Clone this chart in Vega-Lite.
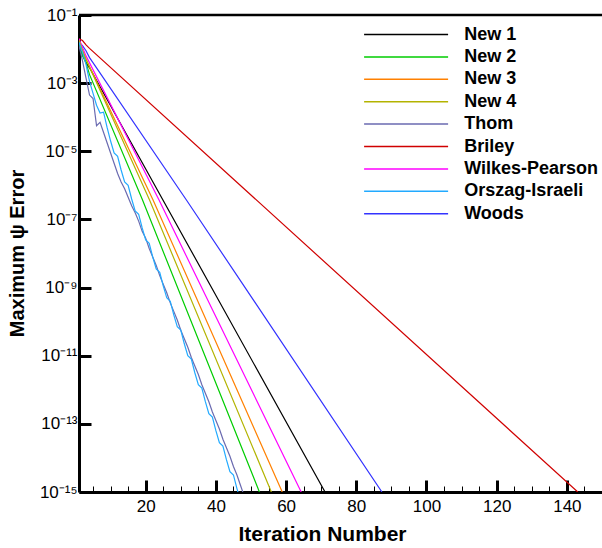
{
  "$schema": "https://vega.github.io/schema/vega-lite/v6.json",
  "width": 523,
  "height": 477,
  "autosize": {"type": "none"},
  "padding": {"left": 79, "top": 15, "right": 0, "bottom": 56},
  "background": "white",
  "config": {
    "view": {"stroke": null},
    "font": "Liberation Sans",
    "axis": {"grid": false, "domainColor": "black", "domainWidth": 3, "tickColor": "black", "labelColor": "black", "titleColor": "black", "labelFont": "Liberation Sans", "titleFont": "Liberation Sans"}
  },
  "datasets": {
    "curves": [
      {"series": "Briley", "iteration": 1, "error": 2.00e-2},
      {"series": "Briley", "iteration": 2, "error": 1.78e-2},
      {"series": "Briley", "iteration": 3, "error": 1.32e-2},
      {"series": "Briley", "iteration": 4, "error": 1.05e-2},
      {"series": "Briley", "iteration": 143.1, "error": 1e-15},

      {"series": "Woods", "iteration": 1, "error": 1.58e-2},
      {"series": "Woods", "iteration": 2, "error": 1.26e-2},
      {"series": "Woods", "iteration": 3, "error": 8.91e-3},
      {"series": "Woods", "iteration": 4, "error": 5.62e-3},
      {"series": "Woods", "iteration": 6, "error": 2.82e-3},
      {"series": "Woods", "iteration": 31.6, "error": 3.72e-7},
      {"series": "Woods", "iteration": 87.3, "error": 1e-15},

      {"series": "New 1", "iteration": 1, "error": 1.12e-2},
      {"series": "New 1", "iteration": 2, "error": 7.08e-3},
      {"series": "New 1", "iteration": 3, "error": 3.98e-3},
      {"series": "New 1", "iteration": 4, "error": 2.82e-3},
      {"series": "New 1", "iteration": 71.1, "error": 1e-15},

      {"series": "Wilkes-Pearson", "iteration": 1, "error": 2.00e-2},
      {"series": "Wilkes-Pearson", "iteration": 2, "error": 1.12e-2},
      {"series": "Wilkes-Pearson", "iteration": 3, "error": 6.31e-3},
      {"series": "Wilkes-Pearson", "iteration": 23.8, "error": 3.72e-7},
      {"series": "Wilkes-Pearson", "iteration": 64.3, "error": 1e-15},

      {"series": "New 3", "iteration": 1, "error": 1.78e-2},
      {"series": "New 3", "iteration": 2, "error": 8.91e-3},
      {"series": "New 3", "iteration": 3, "error": 5.01e-3},
      {"series": "New 3", "iteration": 22.1, "error": 3.72e-7},
      {"series": "New 3", "iteration": 58.9, "error": 1e-15},

      {"series": "New 4", "iteration": 1, "error": 1.78e-2},
      {"series": "New 4", "iteration": 2, "error": 8.91e-3},
      {"series": "New 4", "iteration": 3, "error": 5.01e-3},
      {"series": "New 4", "iteration": 21.1, "error": 3.72e-7},
      {"series": "New 4", "iteration": 55.8, "error": 1e-15},

      {"series": "New 2", "iteration": 1, "error": 1.41e-2},
      {"series": "New 2", "iteration": 2, "error": 6.31e-3},
      {"series": "New 2", "iteration": 3, "error": 3.98e-3},
      {"series": "New 2", "iteration": 4, "error": 1.78e-3},
      {"series": "New 2", "iteration": 19.1, "error": 3.72e-7},
      {"series": "New 2", "iteration": 52.4, "error": 1e-15},

      {"series": "Thom", "iteration": 1, "error": 1.26e-2},
      {"series": "Thom", "iteration": 2, "error": 4.47e-3},
      {"series": "Thom", "iteration": 3, "error": 1.41e-3},
      {"series": "Thom", "iteration": 4, "error": 4.47e-4},
      {"series": "Thom", "iteration": 5, "error": 3.55e-4},
      {"series": "Thom", "iteration": 6, "error": 5.62e-5},
      {"series": "Thom", "iteration": 7, "error": 7.08e-5},
      {"series": "Thom", "iteration": 8, "error": 3.55e-5},
      {"series": "Thom", "iteration": 9, "error": 1.78e-5},
      {"series": "Thom", "iteration": 10, "error": 8.91e-6},
      {"series": "Thom", "iteration": 11, "error": 4.47e-6},
      {"series": "Thom", "iteration": 12, "error": 2.24e-6},
      {"series": "Thom", "iteration": 13, "error": 1.26e-6},
      {"series": "Thom", "iteration": 14, "error": 7.94e-7},
      {"series": "Thom", "iteration": 15, "error": 4.47e-7},
      {"series": "Thom", "iteration": 16, "error": 2.51e-7},
      {"series": "Thom", "iteration": 17, "error": 1.58e-7},
      {"series": "Thom", "iteration": 18, "error": 8.91e-8},
      {"series": "Thom", "iteration": 19, "error": 4.47e-8},
      {"series": "Thom", "iteration": 20, "error": 2.82e-8},
      {"series": "Thom", "iteration": 21, "error": 1.41e-8},
      {"series": "Thom", "iteration": 22, "error": 7.94e-9},
      {"series": "Thom", "iteration": 23, "error": 4.47e-9},
      {"series": "Thom", "iteration": 24, "error": 2.24e-9},
      {"series": "Thom", "iteration": 25, "error": 1.26e-9},
      {"series": "Thom", "iteration": 26, "error": 7.08e-10},
      {"series": "Thom", "iteration": 27, "error": 3.55e-10},
      {"series": "Thom", "iteration": 28, "error": 2.00e-10},
      {"series": "Thom", "iteration": 29, "error": 1.12e-10},
      {"series": "Thom", "iteration": 30, "error": 5.62e-11},
      {"series": "Thom", "iteration": 31, "error": 3.16e-11},
      {"series": "Thom", "iteration": 32, "error": 1.78e-11},
      {"series": "Thom", "iteration": 33, "error": 8.91e-12},
      {"series": "Thom", "iteration": 34, "error": 5.01e-12},
      {"series": "Thom", "iteration": 35, "error": 2.82e-12},
      {"series": "Thom", "iteration": 36, "error": 1.41e-12},
      {"series": "Thom", "iteration": 37, "error": 7.94e-13},
      {"series": "Thom", "iteration": 38, "error": 4.47e-13},
      {"series": "Thom", "iteration": 39, "error": 2.24e-13},
      {"series": "Thom", "iteration": 40, "error": 1.26e-13},
      {"series": "Thom", "iteration": 41, "error": 7.08e-14},
      {"series": "Thom", "iteration": 42, "error": 3.55e-14},
      {"series": "Thom", "iteration": 43, "error": 2.00e-14},
      {"series": "Thom", "iteration": 44, "error": 1.12e-14},
      {"series": "Thom", "iteration": 45, "error": 5.62e-15},
      {"series": "Thom", "iteration": 46, "error": 3.16e-15},
      {"series": "Thom", "iteration": 47, "error": 1.58e-15},
      {"series": "Thom", "iteration": 48, "error": 7.94e-16},

      {"series": "Orszag-Israeli", "iteration": 1, "error": 1.58e-2},
      {"series": "Orszag-Israeli", "iteration": 2, "error": 7.94e-3},
      {"series": "Orszag-Israeli", "iteration": 3, "error": 3.55e-3},
      {"series": "Orszag-Israeli", "iteration": 4, "error": 1.12e-3},
      {"series": "Orszag-Israeli", "iteration": 5, "error": 5.01e-4},
      {"series": "Orszag-Israeli", "iteration": 6, "error": 2.24e-4},
      {"series": "Orszag-Israeli", "iteration": 7, "error": 1.32e-4},
      {"series": "Orszag-Israeli", "iteration": 8, "error": 1.41e-4},
      {"series": "Orszag-Israeli", "iteration": 9, "error": 5.01e-5},
      {"series": "Orszag-Israeli", "iteration": 10, "error": 2.00e-5},
      {"series": "Orszag-Israeli", "iteration": 11, "error": 8.91e-6},
      {"series": "Orszag-Israeli", "iteration": 12, "error": 7.08e-6},
      {"series": "Orszag-Israeli", "iteration": 13, "error": 2.82e-6},
      {"series": "Orszag-Israeli", "iteration": 14, "error": 1.26e-6},
      {"series": "Orszag-Israeli", "iteration": 15, "error": 1.00e-6},
      {"series": "Orszag-Israeli", "iteration": 16, "error": 3.98e-7},
      {"series": "Orszag-Israeli", "iteration": 17, "error": 1.78e-7},
      {"series": "Orszag-Israeli", "iteration": 18, "error": 1.41e-7},
      {"series": "Orszag-Israeli", "iteration": 19, "error": 5.62e-8},
      {"series": "Orszag-Israeli", "iteration": 20, "error": 2.51e-8},
      {"series": "Orszag-Israeli", "iteration": 21, "error": 2.00e-8},
      {"series": "Orszag-Israeli", "iteration": 22, "error": 7.94e-9},
      {"series": "Orszag-Israeli", "iteration": 23, "error": 3.55e-9},
      {"series": "Orszag-Israeli", "iteration": 24, "error": 2.82e-9},
      {"series": "Orszag-Israeli", "iteration": 25, "error": 1.12e-9},
      {"series": "Orszag-Israeli", "iteration": 26, "error": 5.01e-10},
      {"series": "Orszag-Israeli", "iteration": 27, "error": 3.98e-10},
      {"series": "Orszag-Israeli", "iteration": 28, "error": 1.58e-10},
      {"series": "Orszag-Israeli", "iteration": 29, "error": 7.08e-11},
      {"series": "Orszag-Israeli", "iteration": 30, "error": 5.62e-11},
      {"series": "Orszag-Israeli", "iteration": 31, "error": 2.24e-11},
      {"series": "Orszag-Israeli", "iteration": 32, "error": 1.00e-11},
      {"series": "Orszag-Israeli", "iteration": 33, "error": 7.94e-12},
      {"series": "Orszag-Israeli", "iteration": 34, "error": 3.16e-12},
      {"series": "Orszag-Israeli", "iteration": 35, "error": 1.41e-12},
      {"series": "Orszag-Israeli", "iteration": 36, "error": 1.12e-12},
      {"series": "Orszag-Israeli", "iteration": 37, "error": 4.47e-13},
      {"series": "Orszag-Israeli", "iteration": 38, "error": 2.00e-13},
      {"series": "Orszag-Israeli", "iteration": 39, "error": 1.58e-13},
      {"series": "Orszag-Israeli", "iteration": 40, "error": 6.31e-14},
      {"series": "Orszag-Israeli", "iteration": 41, "error": 2.82e-14},
      {"series": "Orszag-Israeli", "iteration": 42, "error": 2.24e-14},
      {"series": "Orszag-Israeli", "iteration": 43, "error": 8.91e-15},
      {"series": "Orszag-Israeli", "iteration": 44, "error": 3.98e-15},
      {"series": "Orszag-Israeli", "iteration": 45, "error": 3.16e-15},
      {"series": "Orszag-Israeli", "iteration": 46, "error": 1.26e-15},
      {"series": "Orszag-Israeli", "iteration": 47, "error": 5.62e-16}
    ]
  },
  "layer": [
    {
      "data": {"name": "curves"},
      "mark": {"type": "line", "clip": true, "strokeWidth": 1.2},
      "encoding": {
        "x": {
          "field": "iteration", "type": "quantitative",
          "scale": {"domain": [1, 150], "nice": false, "zero": false},
          "axis": {
            "title": "Iteration Number",
            "values": [5, 10, 15, 20, 25, 30, 35, 40, 45, 50, 55, 60, 65, 70, 75, 80, 85, 90, 95, 100, 105, 110, 115, 120, 125, 130, 135, 140, 145],
            "labelExpr": "datum.value % 20 === 0 ? datum.label : ''",
            "tickSize": {"condition": {"test": "datum.value % 20 === 0", "value": -12}, "value": -6},
            "tickWidth": {"condition": {"test": "datum.value % 20 === 0", "value": 3}, "value": 1},
            "labelFontSize": 17,
            "labelPadding": 18.5,
            "labelFlush": false,
            "labelOverlap": false,
            "titleFontSize": 21,
            "titleFontWeight": "bold",
            "titleX": 243,
            "titleY": 48,
            "titleBaseline": "alphabetic",
            "titleAnchor": "middle"
          }
        },
        "y": {
          "field": "error", "type": "quantitative",
          "scale": {"type": "log", "domain": [1e-15, 0.1], "nice": false},
          "axis": {
            "title": "Maximum ψ Error",
            "values": [0.1, 0.001, 1e-5, 1e-7, 1e-9, 1e-11, 1e-13, 1e-15],
            "labelExpr": "'10' + ['⁻¹','⁻³','⁻⁵','⁻⁷','⁻⁹','⁻¹¹','⁻¹³','⁻¹⁵'][(-round(log(datum.value)/LN10) - 1) / 2]",
            "tickSize": -12,
            "tickWidth": 3,
            "labelFontSize": 17,
            "labelPadding": 14,
            "labelFlush": false,
            "labelOverlap": false,
            "titleFontSize": 20,
            "titleFontWeight": "bold",
            "titleX": -62,
            "titleY": 238,
            "titleAnchor": "middle",
            "titleBaseline": "middle"
          }
        },
        "color": {
          "field": "series", "type": "nominal",
          "scale": {
            "domain": ["New 1", "New 2", "New 3", "New 4", "Thom", "Briley", "Wilkes-Pearson", "Orszag-Israeli", "Woods"],
            "range": ["#000000", "#00cc00", "#ff8000", "#b3b300", "#6a6ab0", "#d00000", "#ff00ff", "#22aaff", "#3333ff"]
          },
          "legend": {
            "orient": "none",
            "legendX": 317.6,
            "legendY": 10,
            "title": null,
            "symbolType": "M-5,0H5",
            "symbolSize": 282.24,
            "symbolStrokeWidth": 1.5,
            "labelFont": "Liberation Sans",
            "labelFontSize": 18,
            "labelFontWeight": "bold",
            "labelColor": "black",
            "labelOffset": 48.6,
            "labelLimit": 300,
            "rowPadding": 3.4,
            "padding": 0
          }
        }
      }
    },
    {
      "data": {"values": [{}]},
      "mark": {"type": "rule", "color": "black", "strokeWidth": 2.5},
      "encoding": {
        "y": {"datum": 0.1, "type": "quantitative"}
      }
    }
  ]
}
